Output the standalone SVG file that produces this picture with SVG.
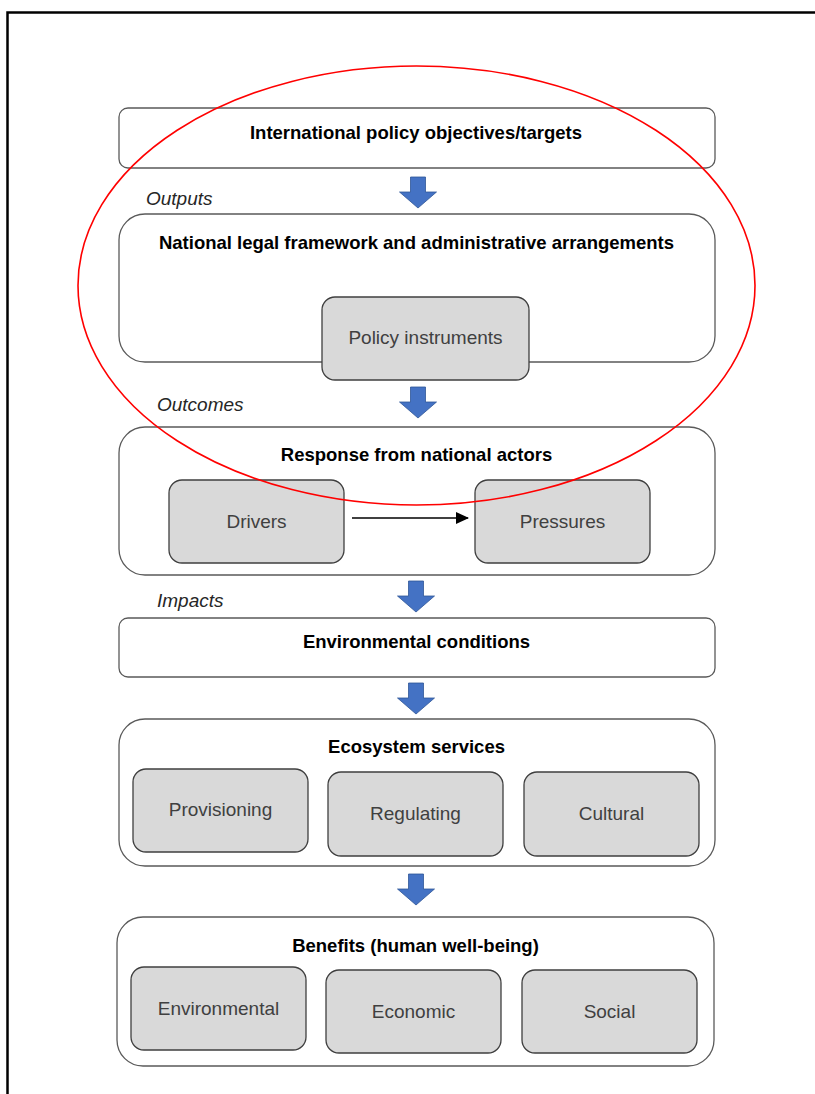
<svg xmlns="http://www.w3.org/2000/svg" width="815" height="1094" viewBox="0 0 815 1094">
<style>
.frame{fill:none;stroke:#000;stroke-width:2.5}
.outer{fill:#fff;stroke:#5a5a5a;stroke-width:1.3}
.inner{fill:#d9d9d9;stroke:#3f3f3f;stroke-width:1.3}
.title{font-family:"Liberation Sans",Arial,sans-serif;font-size:18.5px;font-weight:bold;fill:#000;text-anchor:middle}
.sub{font-family:"Liberation Sans",Arial,sans-serif;font-size:19px;fill:#404040;text-anchor:middle}
.lbl{font-family:"Liberation Sans",Arial,sans-serif;font-size:19px;font-style:italic;fill:#262626}
.blue{fill:#4472c4;stroke:#2f5597;stroke-width:0.8}
</style>
<defs>
<marker id="ah" markerWidth="13" markerHeight="12" refX="12" refY="6" orient="auto" markerUnits="userSpaceOnUse">
<path d="M0,0 L13,6 L0,12 z" fill="#000"/>
</marker>
<path id="bluearrow" d="M-7.5,0 H7.5 V15 H18.5 L0,31 L-18.5,15 H-7.5 z"/>
</defs>
<rect width="815" height="1094" fill="#fff"/>
<path class="frame" d="M7.5,1094 V12.5 H815"/>

<g id="n-international">
<rect class="outer" x="119" y="108" width="596" height="60" rx="9"/>
<text class="title" x="416" y="139">International policy objectives/targets</text>
</g>
<text class="lbl" x="146" y="205">Outputs</text>
<g id="n-national">
<rect class="outer" x="119" y="214" width="596" height="148" rx="26"/>
<text class="title" x="416.5" y="249">National legal framework and administrative arrangements</text>
</g>
<g id="n-policy">
<rect class="inner" x="322" y="297" width="207" height="83" rx="13"/>
<text class="sub" x="425.5" y="344">Policy instruments</text>
</g>
<text class="lbl" x="157" y="411">Outcomes</text>
<g id="n-response">
<rect class="outer" x="119" y="427" width="596" height="148" rx="26"/>
<text class="title" x="416.5" y="461">Response from national actors</text>
</g>
<g id="n-drivers">
<rect class="inner" x="169" y="480" width="175" height="83" rx="13"/>
<text class="sub" x="256.5" y="528">Drivers</text>
</g>
<g id="n-pressures">
<rect class="inner" x="475" y="480" width="175" height="83" rx="13"/>
<text class="sub" x="562.5" y="528">Pressures</text>
</g>
<text class="lbl" x="157" y="607">Impacts</text>
<g id="n-environmental-conditions">
<rect class="outer" x="119" y="618" width="596" height="59" rx="9"/>
<text class="title" x="416.5" y="648">Environmental conditions</text>
</g>
<g id="n-ecosystem">
<rect class="outer" x="119" y="719" width="596" height="147" rx="26"/>
<text class="title" x="416.5" y="753">Ecosystem services</text>
</g>
<g id="n-provisioning">
<rect class="inner" x="133" y="769" width="175" height="83" rx="13"/>
<text class="sub" x="220.5" y="816">Provisioning</text>
</g>
<g id="n-regulating">
<rect class="inner" x="328" y="772" width="175" height="84" rx="13"/>
<text class="sub" x="415.5" y="820">Regulating</text>
</g>
<g id="n-cultural">
<rect class="inner" x="524" y="772" width="175" height="84" rx="13"/>
<text class="sub" x="611.5" y="820">Cultural</text>
</g>
<g id="n-benefits">
<rect class="outer" x="117" y="917" width="597" height="149" rx="26"/>
<text class="title" x="415.5" y="952">Benefits (human well-being)</text>
</g>
<g id="n-environmental">
<rect class="inner" x="131" y="967" width="175" height="83" rx="13"/>
<text class="sub" x="218.5" y="1015">Environmental</text>
</g>
<g id="n-economic">
<rect class="inner" x="326" y="970" width="175" height="83" rx="13"/>
<text class="sub" x="413.5" y="1018">Economic</text>
</g>
<g id="n-social">
<rect class="inner" x="522" y="970" width="175" height="83" rx="13"/>
<text class="sub" x="609.5" y="1018">Social</text>
</g>

<g id="connectors">
<use href="#bluearrow" class="blue" transform="translate(418,177)"/>
<use href="#bluearrow" class="blue" transform="translate(418,387)"/>
<use href="#bluearrow" class="blue" transform="translate(416,581)"/>
<use href="#bluearrow" class="blue" transform="translate(416,683)"/>
<use href="#bluearrow" class="blue" transform="translate(416,874)"/>
<line x1="352" y1="518" x2="468" y2="518" stroke="#000" stroke-width="1.5" marker-end="url(#ah)"/>
</g>

<ellipse cx="416.5" cy="285.5" rx="338.5" ry="219.5" fill="none" stroke="#ff0000" stroke-width="1.6"/>
</svg>
